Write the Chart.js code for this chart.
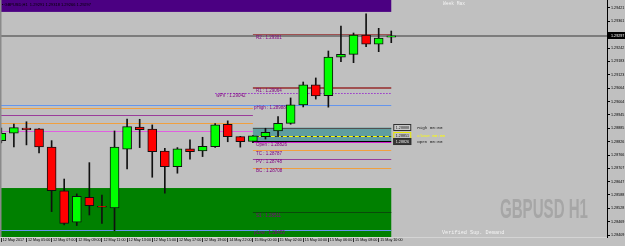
<!DOCTYPE html>
<html><head><meta charset="utf-8">
<script src="https://cdn.jsdelivr.net/npm/chart.js@4.4.0/dist/chart.umd.min.js"></script>
<style>html,body{margin:0;padding:0;background:#c0c0c0;overflow:hidden}canvas{display:block}</style>
</head><body>
<canvas id="c" width="625" height="246"></canvas>
<script>
// ---------- data ----------
const symbol = 'GBPUSD';
const timeframe = 'H1';
const times = ['12 May 03:00','12 May 04:00','12 May 05:00','12 May 06:00','12 May 07:00','12 May 08:00','12 May 09:00','12 May 10:00',
  '12 May 11:00','12 May 12:00','12 May 13:00','12 May 14:00','12 May 15:00','12 May 16:00','12 May 17:00','12 May 18:00',
  '12 May 19:00','12 May 20:00','14 May 22:00','14 May 23:00','15 May 00:00','15 May 01:00','15 May 02:00','15 May 03:00',
  '15 May 04:00','15 May 05:00','15 May 06:00','15 May 07:00','15 May 08:00','15 May 09:00','15 May 10:00','15 May 11:00'];
const openP  = [1.28830,1.28863,1.28886,1.28882,1.28801,1.28607,1.28467,1.28578,1.28538,1.28531,1.28792,1.28890,1.28881,1.28784,1.28714,1.28793,
                1.28784,1.28803,1.28903,1.28848,1.28826,1.28848,1.28873,1.28907,1.28989,1.29078,1.29030,1.29201,1.29214,1.29300,1.29259,1.29291];
const highP  = [1.28886,1.28904,1.28914,1.28884,1.28830,1.28659,1.28593,1.28732,1.28588,1.28873,1.28926,1.28925,1.28900,1.28796,1.28799,1.28833,
                1.28845,1.28906,1.28918,1.28849,1.28853,1.28885,1.28937,1.29020,1.29091,1.29109,1.29229,1.29340,1.29309,1.29394,1.29330,1.29318];
const lowP   = [1.28820,1.28802,1.28811,1.28775,1.28514,1.28455,1.28452,1.28499,1.28461,1.28429,1.28704,1.28799,1.28667,1.28596,1.28685,1.28748,
                1.28759,1.28800,1.28825,1.28801,1.28821,1.28837,1.28848,1.28903,1.28980,1.29015,1.28979,1.29181,1.29177,1.29248,1.29226,1.29266];
const closeP = [1.28863,1.28888,1.28879,1.28802,1.28607,1.28462,1.28582,1.28541,1.28534,1.28801,1.28892,1.28879,1.28781,1.28714,1.28793,1.28781,
                1.28805,1.28900,1.28848,1.28825,1.28851,1.28867,1.28907,1.28989,1.29078,1.29029,1.29202,1.29214,1.29300,1.29259,1.29286,1.29297];
const xTickIndex  = [0,2,4,6,8,10,12,14,16,18,20,22,24,26,28,30];
const xTickLabels = ['12 May 2017','12 May 05:00','12 May 07:00','12 May 09:00','12 May 11:00','12 May 13:00','12 May 15:00','12 May 17:00',
                     '12 May 19:00','14 May 22:00','15 May 00:00','15 May 02:00','15 May 04:00','15 May 06:00','15 May 08:00','15 May 10:00'];
const yTicks = [1.29421,1.29361,1.29302,1.29242,1.29183,1.29123,1.29064,1.29004,1.28945,1.28885,1.28826,1.28766,1.28707,1.28647,1.28588,1.28528,1.28469,1.28409];
const yMin = 1.28401, yMax = 1.29456;

// today's pivot levels (drawn from bar index levelFrom to the last bar)
const levelNames  = ['R2','R1','wPV','pHigh','Open','TC','PV','BC','S1','pLow'];
const levelValues = [1.29301,1.29064,1.29042,1.28988,1.28826,1.28787,1.28748,1.28708,1.28511,1.28433];
const levelFrom   = [20,20,17,-1,20,20,20,20,20,-1];
// previous day's levels (from the left edge to the first bar of today)
const prevLevelNames  = ['pTC','pPV','pBC','pOpen'];
const prevLevelValues = [1.28975,1.28944,1.28909,1.28873];
const todayIndex = 20;

// zones
const zoneNames = ['Week Max','Verified Sup. Demand','Open range'];
const zoneHigh  = [1.29500,1.28619,1.28888];
const zoneLow   = [1.29403,1.28350,1.28826];
const zoneFrom  = [-1,-1,20];
// opening range labels
const rangeLabels = ['High 00:00','Close 00:00','Open 00:00'];
const rangeValues = [1.28888,1.28851,1.28826];

// ---------- styles ----------
const levelColors = ['#a05050','#a05050','#9932cc','#6495ed','#d020d0','#f0a040','#9a3c9a','#f0a040','#0a4a0a','#6495ed'];
const levelWidths = [2,2,1,1,1,1,1,1,1,1];
const prevColors  = ['#f0a040','#9a3c9a','#f0a040','#e060e0'];
const zoneFill    = ['#4b0082','#008000','#5f9ea0'];
const rangeBoxFill   = ['#c8c8c8','#c0c0c0','#383838'];
const rangeBoxBorder = ['#303030','#e8e800','#303030'];
const rangeBoxText   = ['#202020','#202020','#e8e8e8'];
const rangeTextColor = ['#202020','#ffff00','#202020'];

Chart.defaults.font.family = '"Liberation Sans", Arial, sans-serif';
const last = times.length - 1;
const bull = closeP.map((c,i) => c >= openP[i]);

const overlay = {
  id: 'overlay',
  beforeDatasetsDraw(chart) {
    const {ctx, chartArea: a, scales: {x, y}} = chart;
    const X = i => i < 0 ? a.left : x.getPixelForValue(i);
    const Y = v => y.getPixelForValue(v);
    const snap = v => Math.round(v) + 0.5;
    ctx.save();
    ctx.beginPath(); ctx.rect(a.left, a.top, a.right - a.left, a.bottom - a.top); ctx.clip();
    // zones
    zoneHigh.forEach((hi, k) => {
      const x0 = X(zoneFrom[k]), x1 = X(last);
      ctx.fillStyle = zoneFill[k];
      ctx.fillRect(x0, Y(hi), x1 - x0, Y(zoneLow[k]) - Y(hi));
    });
    // opening range box borders
    const bx0 = X(zoneFrom[2]), bx1 = X(last);
    const hl = (yy, col, w, dash) => {
      ctx.beginPath(); ctx.setLineDash(dash || []); ctx.strokeStyle = col; ctx.lineWidth = w;
      ctx.moveTo(bx0, yy); ctx.lineTo(bx1, yy); ctx.stroke(); ctx.setLineDash([]);
    };
    hl(snap(Y(zoneHigh[2])), '#505050', 1);
    hl(snap(Y(rangeValues[1])), '#303030', 1);
    hl(snap(Y(rangeValues[1])), '#ffff00', 1, [4, 2]);
    hl(snap(Y(zoneLow[2])) - 1, '#000000', 1);
    // watermark
    ctx.font = 'bold 28px "Liberation Sans", Arial, sans-serif';
    const wm = symbol + ' ' + timeframe;
    const w = ctx.measureText(wm).width;
    ctx.save(); ctx.translate(a.right - 107, a.bottom - 19); ctx.scale(88 / w, 1);
    ctx.fillStyle = '#a6a6a6'; ctx.textBaseline = 'alphabetic'; ctx.fillText(wm, 0, 0); ctx.restore();
    // previous day lines
    prevLevelValues.forEach((v, k) => {
      ctx.beginPath(); ctx.strokeStyle = prevColors[k]; ctx.lineWidth = 1;
      const yy = snap(Y(v)); ctx.moveTo(a.left, yy); ctx.lineTo(X(todayIndex), yy); ctx.stroke();
    });
    // today's levels
    levelValues.forEach((v, k) => {
      ctx.beginPath(); ctx.strokeStyle = levelColors[k]; ctx.lineWidth = levelWidths[k];
      ctx.setLineDash(levelNames[k] === 'wPV' ? [1.5, 1.5] : []);
      const yy = levelWidths[k] === 2 ? Math.round(Y(v)) : snap(Y(v));
      ctx.moveTo(X(levelFrom[k]), yy); ctx.lineTo(X(last), yy); ctx.stroke();
    });
    ctx.setLineDash([]);
    // current price line
    ctx.beginPath(); ctx.strokeStyle = '#7c7c7c'; ctx.lineWidth = 2;
    const py = Math.round(Y(closeP[last])); ctx.moveTo(a.left, py); ctx.lineTo(a.right, py); ctx.stroke();
    ctx.restore();
  },
  afterDatasetsDraw(chart) {
    const {ctx, chartArea: a, scales: {x, y}} = chart;
    const X = i => i < 0 ? a.left : x.getPixelForValue(i);
    const Y = v => y.getPixelForValue(v);
    ctx.save();
    // level labels
    ctx.font = '4.5px "Liberation Sans", Arial, sans-serif';
    ctx.textBaseline = 'middle'; ctx.textAlign = 'left'; ctx.fillStyle = '#800080';
    levelValues.forEach((v, k) => {
      const lx = levelNames[k] === 'wPV' ? X(levelFrom[k]) + 1 : X(todayIndex) + (levelFrom[k] < 0 ? 1 : 3);
      ctx.fillText(levelNames[k] + ' : ' + v.toFixed(5), lx, Y(v) + 3);
    });
    // header
    ctx.fillStyle = '#000';
    ctx.font = '4px "Liberation Sans", Arial, sans-serif';
    ctx.fillText('\u25AA ' + symbol + ',' + timeframe + '  ' + [openP[last], highP[last], lowP[last], closeP[last]].map(v => v.toFixed(5)).join(' '), 2, 4.5);
    // zone texts
    ctx.fillStyle = '#f4f4f4';
    ctx.font = '4.6px "Liberation Mono", monospace';
    ctx.fillText(zoneNames[0], 443, 3.5);
    ctx.font = '5.2px "Liberation Mono", monospace';
    ctx.fillText(zoneNames[1], 442, 233);
    // opening range price boxes
    const rx = X(last) + 2;
    rangeValues.forEach((v, k) => {
      const cy = Y(v);
      ctx.fillStyle = rangeBoxFill[k]; ctx.fillRect(rx, cy - 3.5, 18, 7);
      ctx.strokeStyle = rangeBoxBorder[k]; ctx.lineWidth = 1; ctx.strokeRect(rx + 0.5, Math.round(cy - 3.5) + 0.5, 17, 6);
      ctx.fillStyle = rangeBoxText[k]; ctx.font = '3.7px "Liberation Sans", Arial, sans-serif';
      ctx.fillText(v.toFixed(5), rx + 2.5, cy + 0.3);
      ctx.fillStyle = rangeTextColor[k]; ctx.font = '4.2px "Liberation Mono", monospace';
      ctx.fillText(rangeLabels[k], rx + 24, cy + 0.3);
    });
    ctx.restore();
  },
  afterDraw(chart) {
    const {ctx, chartArea: a, scales: {y}} = chart;
    ctx.save();
    const cy = y.getPixelForValue(closeP[last]);
    ctx.fillStyle = '#000'; ctx.fillRect(a.right, Math.round(cy - 3.5), 625 - a.right, 7);
    ctx.fillStyle = '#fff'; ctx.font = '3.7px "Liberation Sans", Arial, sans-serif';
    ctx.textBaseline = 'middle'; ctx.fillText(closeP[last].toFixed(5), a.right + 4, cy);
    ctx.fillStyle = '#8a8a8a'; ctx.fillRect(0, 0, 1.5, a.bottom);
    ctx.restore();
  }
};

new Chart(document.getElementById('c'), {
  type: 'bar',
  data: {
    datasets: [
      { label: 'Body', data: times.map((t, i) => ({x: i, y: [openP[i], closeP[i]]})),
        backgroundColor: bull.map(b => b ? '#00ff00' : '#ff0000'), borderColor: '#101010', borderWidth: 1,
        borderSkipped: false, barThickness: 9, grouped: false },
      { label: 'Wick', data: times.map((t, i) => ({x: i, y: [lowP[i], highP[i]]})),
        backgroundColor: '#101010', borderWidth: 0, barThickness: 1, grouped: false }
    ]
  },
  options: {
    responsive: false, animation: false, devicePixelRatio: 1,
    layout: {padding: 0},
    plugins: {legend: {display: false}, tooltip: {enabled: false}, title: {display: false}},
    scales: {
      x: {
        type: 'linear', min: -0.1033, max: 48.15, offset: false, bounds: 'data',
        grid: {display: true, drawOnChartArea: false, offset: false, tickLength: 5, color: '#303030'},
        border: {color: '#d4d4d4'},
        afterBuildTicks: s => { s.ticks = xTickIndex.map(v => ({value: v})); },
        afterFit: s => { s.height = 9; s.paddingLeft = 0; s.paddingRight = 0; },
        ticks: {autoSkip: false, maxRotation: 0, minRotation: 0, align: 'start', padding: -4, labelOffset: 1.5,
                font: {size: 3.7}, color: '#000', callback: v => xTickLabels[xTickIndex.indexOf(v)]}
      },
      y: {
        type: 'linear', position: 'right', min: yMin, max: yMax, bounds: 'data',
        grid: {drawOnChartArea: false, tickLength: 3, color: '#000'},
        border: {color: '#000'},
        afterBuildTicks: s => { s.ticks = yTicks.map(v => ({value: v})); },
        afterFit: s => { s.width = 18; s.paddingTop = 0; s.paddingBottom = 0; },
        ticks: {padding: 1, font: {size: 3.7}, color: '#000', callback: v => v.toFixed(5)}
      }
    }
  },
  plugins: [overlay]
});
</script>
</body></html>
